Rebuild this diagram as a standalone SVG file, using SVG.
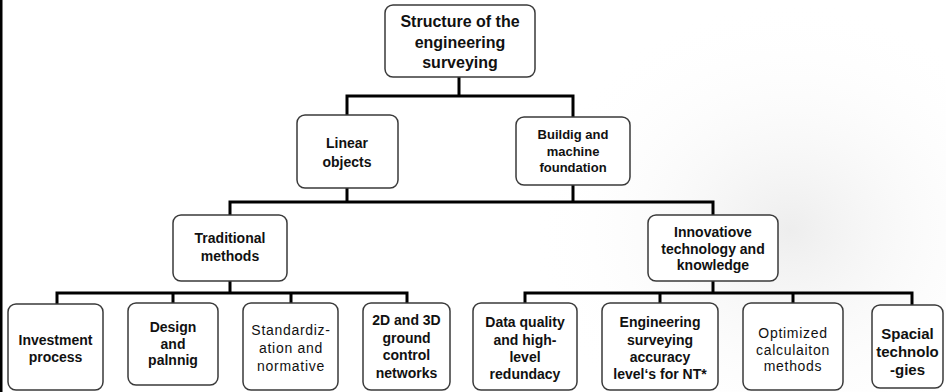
<svg xmlns="http://www.w3.org/2000/svg" width="946" height="392" viewBox="0 0 946 392">
  <defs>
    <radialGradient id="bgTint" cx="0.5" cy="0.5" r="0.5">
      <stop offset="0" stop-color="#e9e9e9" stop-opacity="0.8"/>
      <stop offset="1" stop-color="#ffffff" stop-opacity="0"/>
    </radialGradient>
    <style>
      .box { fill: #ffffff; stroke: #3a3a3a; stroke-width: 1.5; }
      .conn { fill: none; stroke: #000000; stroke-width: 3; stroke-linecap: square; }
      .t { font-family: "Liberation Sans", Arial, sans-serif; font-weight: bold; fill: #111111; text-anchor: middle; }
      .r { font-family: "Liberation Sans", Arial, sans-serif; font-weight: normal; fill: #111111; text-anchor: middle; letter-spacing: 0.7px; }
    </style>
  </defs>

  <rect x="0" y="0" width="946" height="392" fill="#ffffff"/>
  <ellipse cx="790" cy="230" rx="260" ry="230" fill="url(#bgTint)"/>
  <rect x="0" y="0" width="2.5" height="392" fill="#000000"/>

  <g id="connectors">
    <path class="conn" d="M459 77 V96 M347 96 H573 M347 96 V115 M573 96 V117"/>
    <path class="conn" d="M347 188 V202 M573 185 V202 M230 202 H713 M230 202 V215 M713 202 V215"/>
    <path class="conn" d="M230 281 V293 M57 293 H407 M57 293 V304 M173 293 V303 M291 293 V303 M407 293 V303"/>
    <path class="conn" d="M713 281 V293 M525 293 H912 M525 293 V303 M660 293 V303 M793 293 V303 M912 293 V305"/>
  </g>

  <g id="n-root">
    <rect class="box" x="385" y="5" width="150" height="72" rx="8"/>
    <text class="t" font-size="16"><tspan x="460" y="27">Structure of the</tspan><tspan x="460" y="48">engineering</tspan><tspan x="460" y="68">surveying</tspan></text>
  </g>

  <g id="n-linear">
    <rect class="box" x="297" y="115" width="101" height="73" rx="8"/>
    <text class="t" font-size="14"><tspan x="347" y="148">Linear</tspan><tspan x="347" y="167">objects</tspan></text>
  </g>

  <g id="n-building">
    <rect class="box" x="516" y="117" width="114" height="68" rx="8"/>
    <text class="t" font-size="13"><tspan x="573" y="139">Buildig and</tspan><tspan x="573" y="155.5">machine</tspan><tspan x="573" y="172">foundation</tspan></text>
  </g>

  <g id="n-traditional">
    <rect class="box" x="173" y="215" width="114" height="66" rx="8"/>
    <text class="t" font-size="14"><tspan x="230" y="243">Traditional</tspan><tspan x="230" y="261">methods</tspan></text>
  </g>

  <g id="n-innovative">
    <rect class="box" x="648" y="215" width="130" height="66" rx="8"/>
    <text class="t" font-size="14"><tspan x="713" y="237">Innovatiove</tspan><tspan x="713" y="253.5">technology and</tspan><tspan x="713" y="270">knowledge</tspan></text>
  </g>

  <g id="n-investment">
    <rect class="box" x="8" y="304" width="95" height="86" rx="8"/>
    <text class="t" font-size="14"><tspan x="55.5" y="345">Investment</tspan><tspan x="55.5" y="362">process</tspan></text>
  </g>

  <g id="n-design">
    <rect class="box" x="128" y="303" width="90" height="82" rx="8"/>
    <text class="t" font-size="14"><tspan x="173" y="332">Design</tspan><tspan x="173" y="348.5">and</tspan><tspan x="173" y="365">palnnig</tspan></text>
  </g>

  <g id="n-standard">
    <rect class="box" x="243" y="303" width="95" height="87" rx="8"/>
    <text class="r" font-size="14"><tspan x="291" y="335">Standardiz-</tspan><tspan x="291" y="353">ation and</tspan><tspan x="291" y="371">normative</tspan></text>
  </g>

  <g id="n-networks">
    <rect class="box" x="363" y="303" width="87" height="87" rx="8"/>
    <text class="t" font-size="14"><tspan x="406.5" y="325">2D and 3D</tspan><tspan x="406.5" y="343">ground</tspan><tspan x="406.5" y="360">control</tspan><tspan x="406.5" y="378">networks</tspan></text>
  </g>

  <g id="n-dataquality">
    <rect class="box" x="473" y="303" width="104" height="87" rx="8"/>
    <text class="t" font-size="14"><tspan x="525" y="327">Data quality</tspan><tspan x="525" y="345">and high-</tspan><tspan x="525" y="362">level</tspan><tspan x="525" y="379">redundacy</tspan></text>
  </g>

  <g id="n-accuracy">
    <rect class="box" x="602" y="303" width="116" height="87" rx="8"/>
    <text class="t" font-size="14"><tspan x="660" y="327">Engineering</tspan><tspan x="660" y="345">surveying</tspan><tspan x="660" y="362">accuracy</tspan><tspan x="660" y="379">level‘s for NT*</tspan></text>
  </g>

  <g id="n-optimized">
    <rect class="box" x="743" y="303" width="100" height="87" rx="8"/>
    <text class="r" font-size="14"><tspan x="793" y="338">Optimized</tspan><tspan x="793" y="354.5">calculaiton</tspan><tspan x="793" y="371">methods</tspan></text>
  </g>

  <g id="n-spacial">
    <rect class="box" x="872" y="305" width="71" height="83" rx="8"/>
    <text class="t" font-size="15"><tspan x="907.5" y="339">Spacial</tspan><tspan x="907.5" y="357">technolo</tspan><tspan x="907.5" y="375">-gies</tspan></text>
  </g>
</svg>
